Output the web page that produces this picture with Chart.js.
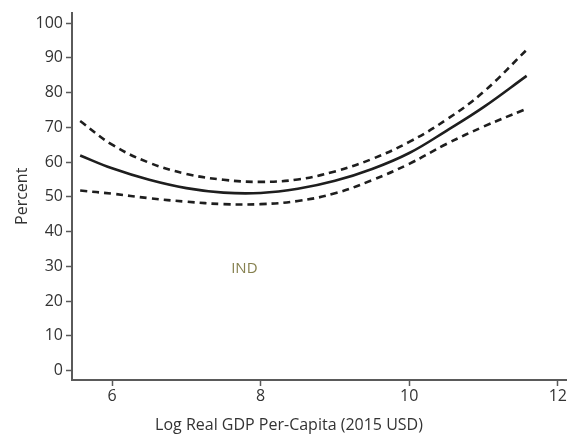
<!DOCTYPE html>
<html>
<head>
<meta charset="utf-8">
<script src="https://cdn.jsdelivr.net/npm/chart.js@4"></script>
<style>
    html, body { margin: 0; padding: 0; background: #fff; }
    #wrap { width: 578px; height: 437px; }
</style>
</head>
<body>
<div id="wrap"><canvas id="myChart" width="578" height="437"></canvas></div>
<script>
// values
const gdp = [5.57, 6, 6.5, 7, 7.5, 8, 8.5, 9, 9.5, 10, 10.5, 11, 11.58];
const fitted = [61.9, 58.2, 54.9, 52.5, 51.2, 51.1, 52.3, 54.6, 58.0, 62.6, 69.0, 75.8, 84.8];
const gdpUpper = [5.57, 6, 6.5, 7, 7.5, 8, 8.5, 9, 9.5, 10, 10.5, 11, 11.6];
const upper = [71.8, 65.0, 59.8, 56.6, 54.9, 54.3, 55.0, 57.3, 60.9, 65.8, 72.2, 80.2, 92.7];
const gdpLower = [5.57, 6, 6.5, 7, 7.5, 8, 8.5, 9, 9.5, 10, 10.5, 11, 11.54];
const lower = [51.8, 50.9, 49.6, 48.6, 47.9, 47.9, 48.8, 51.0, 54.8, 59.5, 65.2, 70.2, 75.0];
const xTicks = [6, 8, 10, 12];
const yTicks = [0, 10, 20, 30, 40, 50, 60, 70, 80, 90, 100];
const countryLabel = "IND";
const countryAt = [7.78, 29.4];

const axisColor = "#5a5a5a";
const textColor = "#333";
const fontFamily = "'Open Sans', 'Noto Sans', sans-serif";

function toPoints(xs, ys) {
    return xs.map((x, i) => ({ x: x, y: ys[i] }));
}

const labelPlugin = {
    id: "labels",
    afterDraw(chart) {
        const ctx = chart.ctx;
        const xs = chart.scales.x, ys = chart.scales.y;
        ctx.save();
        ctx.textAlign = "center";
        ctx.textBaseline = "middle";
        ctx.font = "15px " + fontFamily;
        ctx.fillStyle = "#86814f";
        ctx.fillText(countryLabel, xs.getPixelForValue(countryAt[0]), ys.getPixelForValue(countryAt[1]));
        ctx.font = "16px " + fontFamily;
        ctx.fillStyle = textColor;
        ctx.fillText("Log Real GDP Per-Capita (2015 USD)", chart.width / 2, 425);
        ctx.restore();
    }
};

const ctx = document.getElementById("myChart");

new Chart(ctx, {
    type: "scatter",
    data: {
        datasets: [
            {
                data: toPoints(gdp, fitted),
                showLine: true,
                borderColor: "#1e1e1e",
                borderWidth: 2.6,
                pointRadius: 0,
                tension: 0.4
            },
            {
                data: toPoints(gdpUpper, upper),
                showLine: true,
                borderColor: "#1e1e1e",
                borderWidth: 2.6,
                borderDash: [7, 5],
                pointRadius: 0,
                tension: 0.4
            },
            {
                data: toPoints(gdpLower, lower),
                showLine: true,
                borderColor: "#1e1e1e",
                borderWidth: 2.6,
                borderDash: [7, 5],
                pointRadius: 0,
                tension: 0.4
            }
        ]
    },
    options: {
        responsive: false,
        animation: false,
        layout: { padding: { left: 0, top: 12, right: 12, bottom: 0 } },
        plugins: {
            legend: { display: false },
            tooltip: { enabled: false }
        },
        scales: {
            x: {
                type: "linear",
                min: 5.46,
                max: 12.11,
                afterBuildTicks: (s) => { s.ticks = xTicks.map(v => ({ value: v })); },
                afterFit: (s) => { s.height = 57; },
                border: { display: true, color: axisColor, width: 2 },
                grid: { display: true, drawOnChartArea: false, drawTicks: true, tickLength: 6, tickColor: axisColor, tickWidth: 1.5 },
                ticks: { color: textColor, font: { size: 16, family: fontFamily }, padding: 1, maxRotation: 0 }
            },
            y: {
                type: "linear",
                min: -2.7,
                max: 103,
                afterBuildTicks: (s) => { s.ticks = yTicks.map(v => ({ value: v })); },
                afterFit: (s) => { s.width = 72; },
                border: { display: true, color: axisColor, width: 2 },
                grid: { display: true, drawOnChartArea: false, drawTicks: true, tickLength: 6, tickColor: axisColor, tickWidth: 1.5 },
                ticks: { color: textColor, font: { size: 16, family: fontFamily }, padding: 3 },
                title: { display: true, text: "Percent", color: textColor, font: { size: 16, family: fontFamily }, padding: { top: 13, bottom: 8 } }
            }
        }
    },
    plugins: [labelPlugin]
});
</script>
</body>
</html>
